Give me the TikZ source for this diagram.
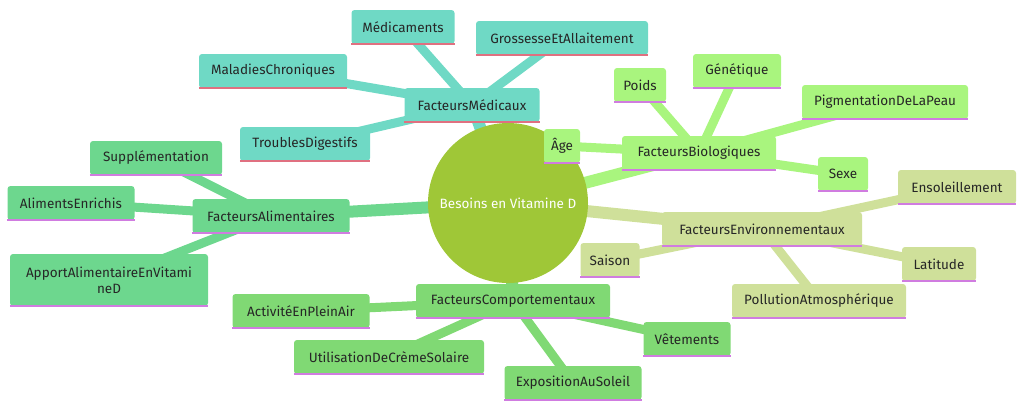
\documentclass[tikz,border=0pt]{standalone}
\usepackage{fontspec}
\setmainfont{Fira Sans}
\definecolor{cmed}{HTML}{6FD9C5}
\definecolor{cbio}{HTML}{A9F57E}
\definecolor{cenv}{HTML}{CFE09A}
\definecolor{cali}{HTML}{6DD78E}
\definecolor{cbeh}{HTML}{80D974}
\definecolor{croot}{HTML}{9FC737}
\definecolor{lred}{HTML}{E07080}
\definecolor{lpur}{HTML}{D07CE0}
\tikzset{
 bx/.style={rounded corners=3pt, inner sep=0pt, minimum height=34pt, align=center, font=\fontsize{13.5pt}{16pt}\selectfont, text=black!85},
 lk/.style={line width=9pt},
 lkr/.style={line width=12pt},
}
\newcommand{\bxn}[7]{%
 \node[bx, fill=#6, minimum width=#5pt] (#1) at (#2,#3) {#4};
 \draw[#7, line width=1.5pt] (#1.south west) -- (#1.south east);}
\begin{document}
\begin{tikzpicture}[x=1pt,y=-1pt]
\useasboundingbox (0,0) rectangle (1024,408);
\coordinate (R) at (508,203);
\draw[lkr,cmed] (R) -- (472,105);
\draw[lkr,cbio] (R) -- (699,153);
\draw[lkr,cenv] (R) -- (762,229);
\draw[lkr,cali] (R) -- (271,216);
\draw[lkr,cbeh] (R) -- (513,301);
\draw[lk,cmed] (472,105) -- (403,27);
\draw[lk,cmed] (472,105) -- (562,38);
\draw[lk,cmed] (472,105) -- (273,71);
\draw[lk,cmed] (472,105) -- (305,144);
\draw[lk,cbio] (699,153) -- (562,146);
\draw[lk,cbio] (699,153) -- (640,85);
\draw[lk,cbio] (699,153) -- (737,71);
\draw[lk,cbio] (699,153) -- (885,102);
\draw[lk,cbio] (699,153) -- (843,174);
\draw[lk,cenv] (762,229) -- (957,187);
\draw[lk,cenv] (762,229) -- (610,260);
\draw[lk,cenv] (762,229) -- (939,264);
\draw[lk,cenv] (762,229) -- (819,301);
\draw[lk,cali] (271,216) -- (156,158);
\draw[lk,cali] (271,216) -- (71,203);
\draw[lk,cali] (271,216) -- (109,280);
\draw[lk,cbeh] (513,301) -- (301,311);
\draw[lk,cbeh] (513,301) -- (389,357);
\draw[lk,cbeh] (513,301) -- (687,339);
\draw[lk,cbeh] (513,301) -- (573,383);
\node[circle, fill=croot, minimum size=160pt, inner sep=0pt, text=white, font=\fontsize{13.5pt}{16pt}\selectfont] (root) at (R) {Besoins en Vitamine D};
\bxn{med}{472}{105}{FacteursMédicaux}{135}{cmed}{lred}
\bxn{m1}{403}{27}{Médicaments}{103}{cmed}{lred}
\bxn{m2}{562}{38}{GrossesseEtAllaitement}{172}{cmed}{lred}
\bxn{m3}{273}{71}{MaladiesChroniques}{148}{cmed}{lred}
\bxn{m4}{305}{144}{TroublesDigestifs}{130}{cmed}{lred}
\bxn{bio}{699}{153}{FacteursBiologiques}{154}{cbio}{lpur}
\bxn{b1}{562}{146}{Âge}{36}{cbio}{lpur}
\bxn{b2}{640}{85}{Poids}{52}{cbio}{lpur}
\bxn{b3}{737}{71}{Génétique}{88}{cbio}{lpur}
\bxn{b4}{885}{102}{PigmentationDeLaPeau}{166}{cbio}{lpur}
\bxn{b5}{843}{174}{Sexe}{50}{cbio}{lpur}
\bxn{env}{762}{229}{FacteursEnvironnementaux}{200}{cenv}{lpur}
\bxn{e1}{957}{187}{Ensoleillement}{118}{cenv}{lpur}
\bxn{e2}{610}{260}{Saison}{59}{cenv}{lpur}
\bxn{e3}{939}{264}{Latitude}{74}{cenv}{lpur}
\bxn{e4}{819}{301}{PollutionAtmosphérique}{174}{cenv}{lpur}
\bxn{ali}{271}{216}{FacteursAlimentaires}{157}{cali}{lpur}
\bxn{a1}{156}{158}{Supplémentation}{132}{cali}{lpur}
\bxn{a2}{71}{203}{AlimentsEnrichis}{127}{cali}{lpur}
\node[bx, fill=cali, minimum width=198pt, minimum height=52pt] (a3) at (109,280) {ApportAlimentaireEnVitami\\neD};
\draw[lpur, line width=1.5pt] (a3.south west) -- (a3.south east);
\bxn{beh}{513}{301}{FacteursComportementaux}{194}{cbeh}{lpur}
\bxn{c1}{301}{311}{ActivitéEnPleinAir}{137}{cbeh}{lpur}
\bxn{c2}{389}{357}{UtilisationDeCrèmeSolaire}{190}{cbeh}{lpur}
\bxn{c3}{687}{339}{Vêtements}{87}{cbeh}{lpur}
\bxn{c4}{573}{383}{ExpositionAuSoleil}{137}{cbeh}{lpur}
\end{tikzpicture}
\end{document}
